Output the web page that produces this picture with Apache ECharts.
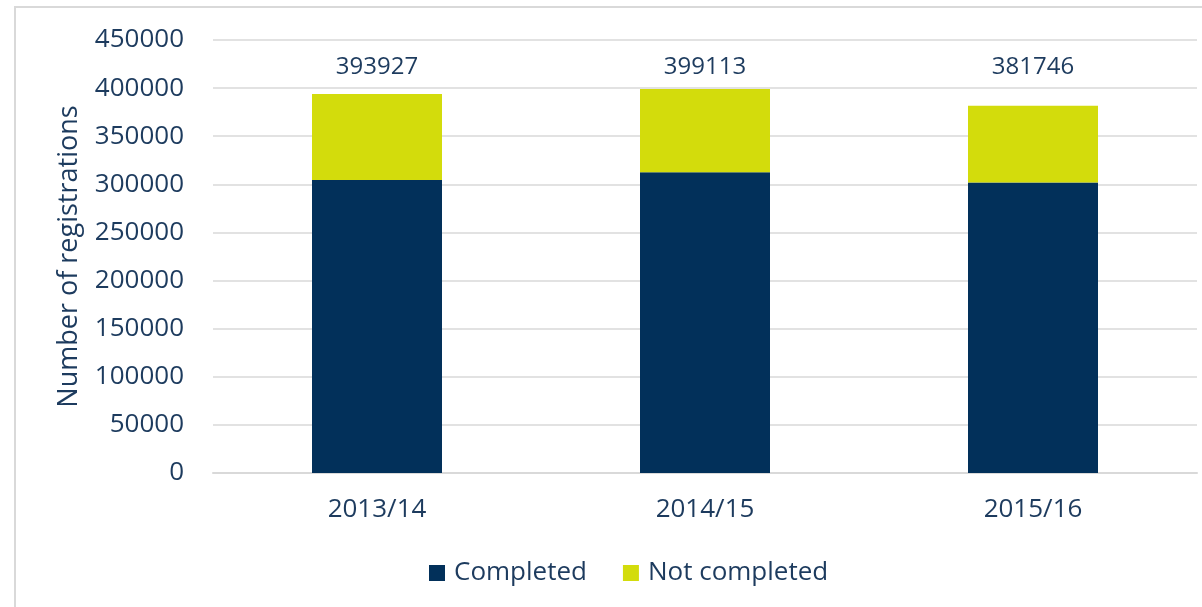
<!DOCTYPE html>
<html>
<head>
<meta charset="utf-8">
<script src="https://cdn.jsdelivr.net/npm/echarts@6/dist/echarts.min.js"></script>
<style>
    html, body {margin: 0; padding: 0; overflow: hidden; background: #fff;}
    #frame {position: absolute; left: 14px; top: 6px; width: 1400px; height: 800px; border: 2px solid #d9d9d9; box-sizing: border-box;}
    #char1 {position: absolute; left: 0; top: 0; width: 1202px; height: 607px;}
</style>
</head>
<body>
<div id="frame"></div>
<div id="char1"></div>
<script>
// 数据
var years = ['2013/14', '2014/15', '2015/16'];
var completed = [304500, 312500, 302000];
var notCompleted = [89427, 86613, 79746];
var totals = [393927, 399113, 381746];
var yTicks = [0, 50000, 100000, 150000, 200000, 250000, 300000, 350000, 400000, 450000];

var textColor = '#1d3b5e';
var font = 'Open Sans';

function char1() {

    var myChart = echarts.init(document.getElementById('char1'));

    var option = {
        animation: false,
        textStyle: {fontFamily: font},
        grid: {left: 213, right: 5, top: 40, bottom: 134},
        legend: {
            top: 555,
            left: 424,
            itemWidth: 16,
            itemHeight: 16,
            itemGap: 36,
            icon: 'rect',
            textStyle: {color: textColor, fontSize: 26, fontFamily: font, padding: [0, 0, 0, 4]},
            data: ['Completed', 'Not completed']
        },
        xAxis: {
            type: 'category',
            data: years,
            axisLine: {lineStyle: {color: '#d9d9d9', width: 2}},
            axisTick: {show: false},
            axisLabel: {color: textColor, fontSize: 26, margin: 24, fontFamily: font}
        },
        yAxis: {
            type: 'value',
            min: yTicks[0],
            max: yTicks[yTicks.length - 1],
            interval: yTicks[1] - yTicks[0],
            name: 'Number of registrations',
            nameLocation: 'middle',
            nameGap: 130,
            nameTextStyle: {color: textColor, fontSize: 27, fontFamily: font},
            axisLine: {show: false},
            axisTick: {show: false},
            axisLabel: {
                color: textColor, fontSize: 26, margin: 29, fontFamily: font,
                formatter: function (v) {
                    return String(v);
                }
            },
            splitLine: {lineStyle: {color: '#d9d9d9', width: 1.5}}
        },
        series: [
            {
                name: 'Completed',
                type: 'bar',
                stack: 'total',
                barWidth: 130,
                itemStyle: {color: '#02305a'},
                data: completed
            },
            {
                name: 'Not completed',
                type: 'bar',
                stack: 'total',
                barWidth: 130,
                itemStyle: {color: '#d3dc0c'},
                label: {
                    show: true,
                    position: 'top',
                    align: 'center',
                    verticalAlign: 'middle',
                    color: textColor,
                    fontSize: 24,
                    fontFamily: font,
                    formatter: function (p) {
                        return totals[p.dataIndex];
                    }
                },
                labelLayout: {y: 67, align: 'center'},
                data: notCompleted
            }
        ]
    };

    myChart.setOption(option);
    window.addEventListener('resize', function () {
        myChart.resize();
    })
}

char1();
</script>
</body>
</html>
